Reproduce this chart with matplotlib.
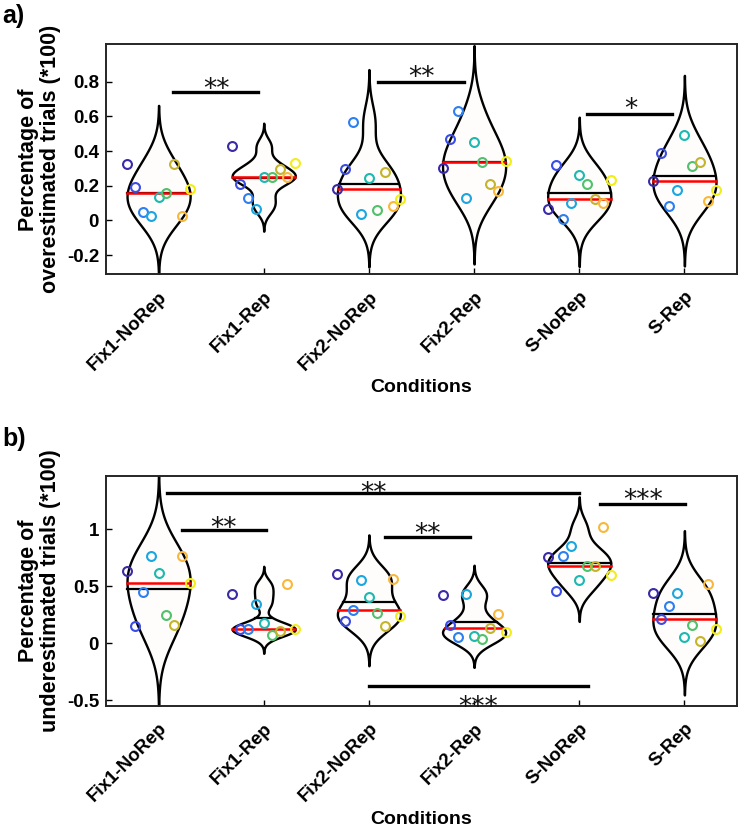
import numpy as np
import matplotlib
matplotlib.use("Agg")
import matplotlib.pyplot as plt

# ---------------- data ----------------
conditions = ['Fix1-NoRep', 'Fix1-Rep', 'Fix2-NoRep', 'Fix2-Rep', 'S-NoRep', 'S-Rep']

over_fix1_norep = [0.324, 0.192, 0.050, 0.025, 0.136, 0.161, 0.326, 0.027, 0.182]
over_fix1_rep   = [0.430, 0.211, 0.129, 0.069, 0.250, 0.253, 0.296, 0.253, 0.330]
over_fix2_norep = [0.180, 0.297, 0.566, 0.036, 0.246, 0.059, 0.280, 0.083, 0.125]
over_fix2_rep   = [0.305, 0.470, 0.628, 0.129, 0.451, 0.336, 0.211, 0.167, 0.345]
over_s_norep    = [0.067, 0.322, 0.008, 0.102, 0.263, 0.213, 0.123, 0.102, 0.234]
over_s_rep      = [0.225, 0.388, 0.081, 0.177, 0.493, 0.315, 0.338, 0.111, 0.177]

under_fix1_norep = [0.637, 0.155, 0.450, 0.763, 0.617, 0.251, 0.158, 0.763, 0.526]
under_fix1_rep   = [0.433, 0.126, 0.126, 0.342, 0.181, 0.070, 0.111, 0.518, 0.129]
under_fix2_norep = [0.605, 0.196, 0.292, 0.553, 0.406, 0.266, 0.149, 0.567, 0.240]
under_fix2_rep   = [0.427, 0.158, 0.055, 0.436, 0.064, 0.038, 0.137, 0.257, 0.099]
under_s_norep    = [0.754, 0.459, 0.769, 0.851, 0.553, 0.681, 0.681, 1.018, 0.600]
under_s_rep      = [0.439, 0.211, 0.328, 0.439, 0.056, 0.161, 0.018, 0.518, 0.126]

subject_colors = ['#3b2aa8', '#3a4ce6', '#2d7ff0', '#1ca6e0', '#1db8b0',
                  '#52c06c', '#c4b42c', '#f9b83a', '#f2ee18']

# significance: (x_start, x_end, y_bar, label, text_x, text_y)
over_sig = [(1.14, 1.95, 0.741, '**', 1.55, 0.800),
            (3.085, 3.90, 0.800, '**', 3.50, 0.873),
            (5.075, 5.885, 0.612, '*', 5.49, 0.685)]
under_sig = [(1.076, 5.00, 1.322, '**', 3.04, 1.389),
             (1.22, 2.02, 0.991, '**', 1.62, 1.082),
             (3.15, 3.96, 0.936, '**', 3.56, 1.029),
             (5.20, 6.01, 1.225, '***', 5.61, 1.330),
             (3.00, 5.08, -0.374, '***', 4.04, -0.491)]

over_ticks = [-0.2, 0, 0.2, 0.4, 0.6, 0.8]
over_ticklabels = ['-0.2', '0', '0.2', '0.4', '0.6', '0.8']
under_ticks = [-0.5, 0, 0.5, 1]
under_ticklabels = ['-0.5', '0', '0.5', '1']


def ksdensity(x, n=100):
    x = np.asarray(x, dtype=float)
    med = np.median(x)
    sig = np.median(np.abs(x - med)) / 0.6745
    if sig <= 0:
        sig = x.max() - x.min()
    bw = sig * (4.0 / (3.0 * len(x))) ** 0.2
    u = np.linspace(x.min() - 3 * bw, x.max() + 3 * bw, n)
    f = np.exp(-0.5 * ((u[:, None] - x[None, :]) / bw) ** 2).sum(axis=1)
    return u, f


FONT = ['Liberation Sans', 'DejaVu Sans']
AST = 19


def draw_panel(ax, groups, ylim, ticks, ticklabels, ylabel, sigs):
    positions = np.arange(1, len(groups) + 1)
    offs = np.linspace(-0.3, 0.3, 9)
    for pos, vals in zip(positions, groups):
        vals = np.asarray(vals)
        u, f = ksdensity(vals)
        w = f / f.max() * 0.3
        ax.fill_betweenx(u, pos - w, pos + w, facecolor='#fefdfb',
                         edgecolor='black', linewidth=1.7, zorder=2)
        mean_v = vals.mean()
        med_v = np.median(vals)
        wm = np.interp(mean_v, u, w)
        ax.plot([pos - wm, pos + wm], [mean_v, mean_v], color='black', lw=1.6, zorder=3)
        wd = np.interp(med_v, u, w)
        ax.plot([pos - wd, pos + wd], [med_v, med_v], color='#ff0000', lw=1.8, zorder=3)
        for k, v in enumerate(vals):
            ax.plot(pos + offs[k], v, 'o', ms=6.4, mfc='none', mec=subject_colors[k],
                    mew=1.5, zorder=4)
    for x0, x1, yb, lab, tx, ty in sigs:
        ax.plot([x0, x1], [yb, yb], color='black', lw=2.4, zorder=3, clip_on=False)
        ax.annotate(lab, xy=(tx, ty), xytext=(0, -0.60 * AST), textcoords='offset points',
                    ha='center', va='baseline', fontsize=AST, family='DejaVu Sans',
                    color='#111111', annotation_clip=False)
    ax.set_xlim(0.5, 6.5)
    ax.set_ylim(*ylim)
    ax.set_yticks(ticks)
    ax.set_yticklabels(ticklabels, fontsize=13.5, fontweight='bold', family=FONT)
    ax.set_xticks(positions)
    ax.set_xticklabels(conditions, rotation=45, ha='right', va='top',
                       rotation_mode='anchor', fontsize=13.5, fontweight='bold', family=FONT)
    ax.tick_params(axis='x', direction='in', length=4, pad=10, width=1)
    ax.tick_params(axis='y', direction='in', length=4, pad=5, width=1)
    for sp in ax.spines.values():
        sp.set_linewidth(1.4)
        sp.set_color('#262626')
    ax.set_ylabel(ylabel, fontsize=15.5, fontweight='bold', family=FONT,
                  linespacing=1.05, labelpad=4)
    ax.set_xlabel('Conditions', fontsize=14, fontweight='bold', family=FONT)
    ax.xaxis.set_label_coords(0.5, -0.455)
    ax.xaxis.label.set_va('top')


fig = plt.figure(figsize=(7.4, 8.3), dpi=100)
ax1 = fig.add_axes([106 / 740, 1 - 274.3 / 830, 631 / 740, 230 / 830])
ax2 = fig.add_axes([106 / 740, 1 - 706 / 830, 631 / 740, 230 / 830])

draw_panel(ax1, [over_fix1_norep, over_fix1_rep, over_fix2_norep, over_fix2_rep,
                 over_s_norep, over_s_rep],
           (-0.31, 1.015), over_ticks, over_ticklabels,
           'Percentage of\noverestimated trials (*100)', over_sig)
draw_panel(ax2, [under_fix1_norep, under_fix1_rep, under_fix2_norep, under_fix2_rep,
                 under_s_norep, under_s_rep],
           (-0.55, 1.468), under_ticks, under_ticklabels,
           'Percentage of\nunderestimated trials (*100)', under_sig)

fig.text(2 / 740, 1 - 4 / 830, 'a)', fontsize=18, fontweight='bold', family=FONT,
         ha='left', va='top')
fig.text(2 / 740, 1 - 427 / 830, 'b)', fontsize=18, fontweight='bold', family=FONT,
         ha='left', va='top')

fig.savefig('out.png', dpi=100)
